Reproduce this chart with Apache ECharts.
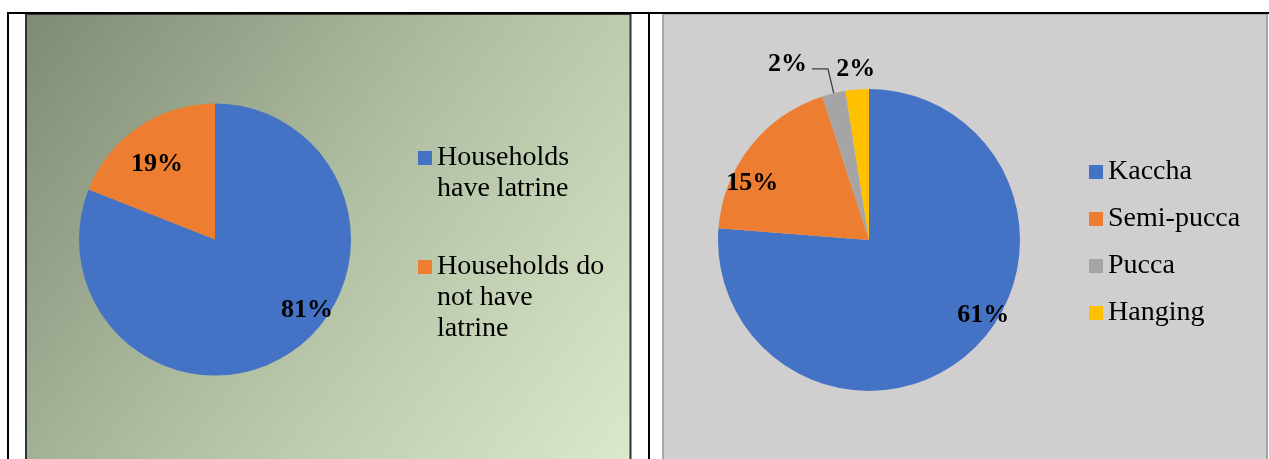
<!DOCTYPE html>
<html>
<head>
<meta charset="utf-8">
<script src="https://cdn.jsdelivr.net/npm/echarts@6/dist/echarts.min.js"></script>
<style>
  html, body { margin: 0; padding: 0; background: #ffffff; }
  #chart { width: 1269px; height: 459px; }
</style>
</head>
<body>
<div id="chart"></div>
<script>
// Latrine availability (left pie)
const latrineNames = ['Households have latrine', 'Households do not have latrine'];
const latrineValues = [81, 19];
const latrineLegendText = ['Households\nhave latrine', 'Households do\nnot have\nlatrine'];

// Latrine type (right pie)
const typeNames = ['Kaccha', 'Semi-pucca', 'Pucca', 'Hanging'];
const typeValues = [61, 15, 2, 2];

const palette = ['#4472C4', '#ED7D31', '#A5A5A5', '#FFC000'];
const serif = 'Liberation Serif, Times New Roman, serif';

// label nudges relative to the default inside position
const latrineLabelOffsets = [[52, 12], [-18, -16]];
const typeLabelOffsets = [[61, 18], [-55, -8], [0, -5], [-7, -92]];

const chart = echarts.init(document.getElementById('chart'), null, { renderer: 'canvas' });

const labelFont = {
  fontFamily: serif, fontSize: 26, fontWeight: 'bold', color: '#000000'
};
const legendFont = {
  fontFamily: serif, fontSize: 28, color: '#000000', lineHeight: 31
};

// Multi-line legend entry: the icon sits beside the first line, so the text
// block is led by (lines - 1) empty lines to keep it balanced around the icon.
function latrineLegend(i, top) {
  const text = latrineLegendText[i];
  const lines = text.split('\n').length;
  const lead = '\n'.repeat(lines - 1);
  return {
    orient: 'vertical', left: 418, top: top, padding: 0,
    icon: 'rect', itemWidth: 14, itemHeight: 14,
    data: [latrineNames[i]],
    formatter: () => lead + text,
    textStyle: legendFont
  };
}

const option = {
  animation: false,
  graphic: [
    {
      type: 'rect', z: 0,
      shape: { x: 26, y: 14, width: 604.5, height: 460 },
      style: {
        fill: new echarts.graphic.LinearGradient(0, 0, 1, 1, [
          { offset: 0, color: '#7f8a75' },
          { offset: 0.5, color: '#b1c0a3' },
          { offset: 1, color: '#dde9cc' }
        ]),
        stroke: '#333333', lineWidth: 2
      }
    },
    {
      type: 'rect', z: 0,
      shape: { x: 663, y: 14, width: 604, height: 460 },
      style: { fill: '#d0cece', stroke: '#a6a6a6', lineWidth: 2 }
    },
    { type: 'line', z: 1, shape: { x1: 7, y1: 13, x2: 1269, y2: 13 }, style: { stroke: '#000', lineWidth: 2 } },
    { type: 'line', z: 1, shape: { x1: 8, y1: 12, x2: 8, y2: 459 }, style: { stroke: '#000', lineWidth: 2 } },
    { type: 'line', z: 1, shape: { x1: 649, y1: 12, x2: 649, y2: 459 }, style: { stroke: '#000', lineWidth: 2 } }
  ],
  legend: [
    latrineLegend(0, 111.5),
    latrineLegend(1, 189.5),
    {
      orient: 'vertical', left: 1089, top: 158, padding: 0,
      icon: 'rect', itemWidth: 14, itemHeight: 14, itemGap: 19,
      data: typeNames,
      textStyle: Object.assign({}, legendFont, { lineHeight: 28 })
    }
  ],
  series: [
    {
      type: 'pie',
      center: [215, 239.5],
      radius: 136,
      startAngle: 90,
      clockwise: true,
      avoidLabelOverlap: false,
      label: Object.assign({ show: true, position: 'inside', formatter: '{c}%' }, labelFont),
      labelLine: { show: false },
      emphasis: { disabled: true },
      data: latrineNames.map((name, i) => ({
        name: name,
        value: latrineValues[i],
        itemStyle: { color: palette[i] },
        label: { offset: latrineLabelOffsets[i] }
      }))
    },
    {
      type: 'pie',
      center: [869, 240],
      radius: 151,
      startAngle: 90,
      clockwise: true,
      avoidLabelOverlap: false,
      label: Object.assign({ show: true, position: 'inside', formatter: '{c}%' }, labelFont),
      labelLine: { show: false },
      emphasis: { disabled: true },
      data: typeNames.map((name, i) => {
        const item = {
          name: name,
          value: typeValues[i],
          itemStyle: { color: palette[i] },
          label: { offset: typeLabelOffsets[i] }
        };
        if (name === 'Pucca') {
          item.label.position = 'outside';
          item.labelLine = {
            show: true, length: 25, length2: 16,
            lineStyle: { color: '#404040', width: 1.3 }
          };
        }
        return item;
      })
    }
  ]
};

chart.setOption(option);
</script>
</body>
</html>
